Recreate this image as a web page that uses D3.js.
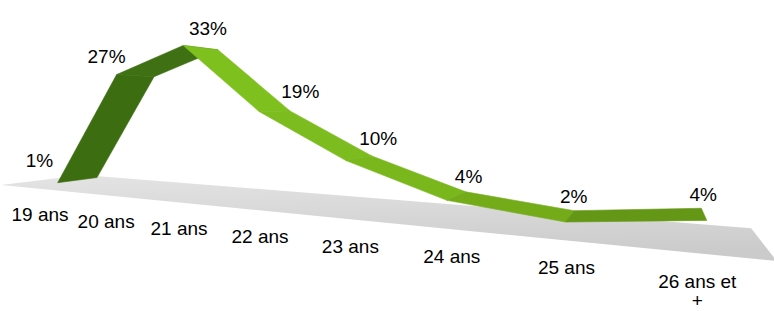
<!DOCTYPE html>
<html>
<head>
<meta charset="utf-8">
<script src="https://cdn.jsdelivr.net/npm/d3@7"></script>
<style>
  body { margin: 0; background: #fff; }
  text { font-family: "Liberation Sans", Arial, sans-serif; fill: #000; }
</style>
</head>
<body>
<svg width="774" height="311"></svg>
<script>
const categories = ["19 ans", "20 ans", "21 ans", "22 ans", "23 ans", "24 ans", "25 ans", "26 ans et +"];
const values = [1, 27, 33, 19, 10, 4, 2, 4];
const valueLabels = ["1%", "27%", "33%", "19%", "10%", "4%", "2%", "4%"];

const svg = d3.select("svg");

// category -> position along the (receding) x axis
const xIdx = d3.scalePoint().domain(categories).range([0, categories.length - 1]);
// value -> height in px at the nearest depth
const yH = d3.scaleLinear().domain([0, 40]).range([0, 158.8]);

// simple 2-point perspective: vanishing points for x and depth
const O = [78, 184], Vx = [-913, 95.5], Vz = [655, 105];
const ax = -0.0553, az = -0.034;
function proj(X, Z, v) {
  const p = ax * X, q = az * Z, w = 1 + p + q;
  return [(O[0] + p * Vx[0] + q * Vz[0]) / w,
          (O[1] + p * Vx[1] + q * Vz[1] - yH(v)) / w];
}

const defs = svg.append("defs");
const fg = defs.append("linearGradient").attr("id", "floor")
  .attr("x1", 0).attr("y1", 0).attr("x2", 0.15).attr("y2", 1);
fg.append("stop").attr("offset", "0%").attr("stop-color", "#e4e4e4");
fg.append("stop").attr("offset", "100%").attr("stop-color", "#cbcbcb");

// floor
const floorPts = [proj(-0.75, -2.4, 0), proj(7.4, -2.4, 0), proj(7.4, 1.75, 0), proj(-0.75, 1.75, 0)];
svg.append("path")
  .attr("d", "M" + floorPts.join("L") + "Z")
  .attr("fill", "url(#floor)");

// ribbon shading from face normal
const shade = d3.scaleLinear()
  .domain([-0.6, 0.1, 0.35, 1])
  .range(["#3d6d11", "#3f7013", "#6c9f15", "#80c420"]);
const L = [0.9, 0.44];

const segs = d3.range(values.length - 1).map(i => {
  const dx = 55, dv = (values[i + 1] - values[i]) * 4;
  const len = Math.hypot(dx, dv);
  const n = [-dv / len, dx / len];
  return { i, b: n[0] * L[0] + n[1] * L[1] };
});

svg.append("g").selectAll("path")
  .data(segs)
  .join("path")
  .attr("d", d => {
    const a = xIdx(categories[d.i]), b = xIdx(categories[d.i + 1]);
    const va = values[d.i], vb = values[d.i + 1];
    const pts = [proj(a, -1, va), proj(b, -1, vb), proj(b, 1, vb), proj(a, 1, va)];
    return "M" + pts.join("L") + "Z";
  })
  .attr("fill", d => shade(d.b))
  .attr("stroke", d => shade(d.b))
  .attr("stroke-width", 0.6);

// value labels: above the point, pushed sideways along the line's normal
const tops = values.map((v, i) => proj(xIdx(categories[i]), 0, v));
const labelPos = tops.map((p, i) => {
  const prev = tops[Math.max(0, i - 1)], next = tops[Math.min(tops.length - 1, i + 1)];
  const u = (a, b) => { const l = Math.hypot(b[0] - a[0], b[1] - a[1]) || 1; return [(b[0] - a[0]) / l, (b[1] - a[1]) / l]; };
  let t = [0, 0];
  if (i > 0) { const s = u(prev, p); t = [t[0] + s[0], t[1] + s[1]]; }
  if (i < tops.length - 1) { const s = u(p, next); t = [t[0] + s[0], t[1] + s[1]]; }
  const l = Math.hypot(t[0], t[1]);
  const nx = t[1] / l;
  return [p[0] + nx * 44, p[1] - 20];
});

svg.append("g").selectAll("text")
  .data(valueLabels)
  .join("text")
  .attr("x", (d, i) => labelPos[i][0])
  .attr("y", (d, i) => labelPos[i][1] + 7)
  .attr("text-anchor", "middle")
  .attr("font-size", 19)
  .text(d => d);

// category labels: their own receding row in front of the floor
const rowT = i => i / (1 - 0.047 * i);
const catG = svg.append("g").selectAll("text")
  .data(categories)
  .join("text")
  .attr("text-anchor", "middle")
  .attr("font-size", 19)
  .attr("transform", d => {
    const t = rowT(xIdx(d));
    return `translate(${40 + 63 * t},${221 + 6.4 * t})`;
  });

catG.each(function(d) {
  const lines = d === "26 ans et +" ? ["26 ans et", "+"] : [d];
  d3.select(this).selectAll("tspan")
    .data(lines)
    .join("tspan")
    .attr("x", 0)
    .attr("dy", (l, j) => j === 0 ? 0 : 19)
    .text(l => l);
});
</script>
</body>
</html>
